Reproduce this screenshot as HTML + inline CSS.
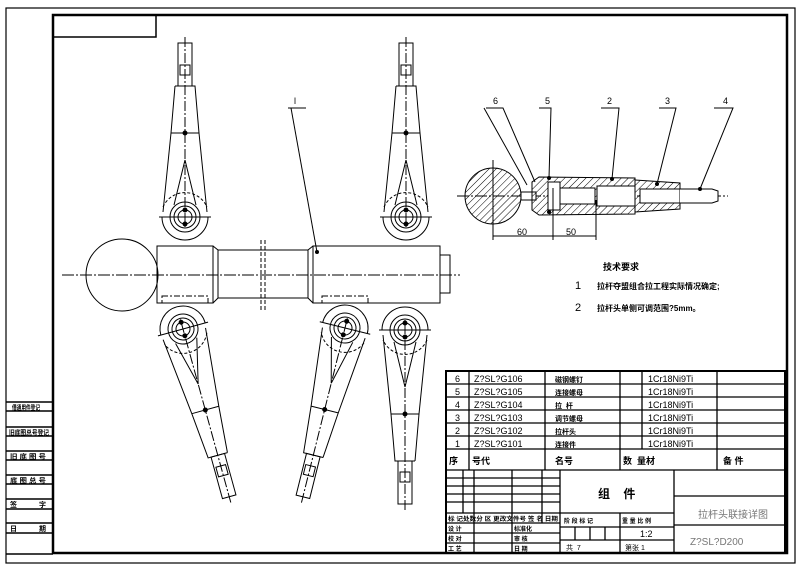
<!DOCTYPE html>
<html><head><meta charset="utf-8"><style>
body{margin:0;background:#fff}
svg{display:block}
text{font-family:"Liberation Sans","Noto Sans CJK SC",sans-serif;fill:#000}
</style></head><body>
<svg width="800" height="576" viewBox="0 0 800 576" xmlns="http://www.w3.org/2000/svg">
<defs>
<pattern id="h" width="5" height="5" patternUnits="userSpaceOnUse" patternTransform="rotate(45)">
<line x1="0" y1="0" x2="0" y2="5" stroke="#000" stroke-width="1"/>
</pattern>
<g id="arm" fill="none" stroke="#000" stroke-width="1">
<rect x="-7" y="-174" width="14" height="43"/>
<rect x="-5" y="-152" width="10" height="10"/>
<path d="M-10,-131 L10,-131 L14,-84 L22,-5 M-10,-131 L-14,-84 L-22,-5"/>
<line x1="-14" y1="-84" x2="14" y2="-84"/>
<path d="M-23,0 A23,23 0 0 0 23,0"/>
<path d="M0,-57 L-11,-12 M0,-57 L11,-12"/>
<circle r="15"/><circle r="11"/><circle r="7"/>
<path d="M-22,-10 A24,24 0 0 1 22,-10" stroke-dasharray="3,2"/>
<line x1="-26" y1="0" x2="26" y2="0"/>
<line x1="0" y1="-180" x2="0" y2="12" stroke-dasharray="10,2,2,2"/>
<circle cx="0" cy="-84" r="2" fill="#000"/>
<circle cx="0" cy="-7" r="2" fill="#000"/>
<circle cx="0" cy="7" r="2" fill="#000"/>
</g>
</defs>
<rect x="6" y="8" width="789" height="555" fill="none" stroke="#000" stroke-width="1.2"/>
<rect x="53" y="15" width="734" height="538" fill="none" stroke="#000" stroke-width="2.5"/>
<rect x="53" y="15" width="103" height="22" fill="none" stroke="#000" stroke-width="1.5"/>
<g stroke="#000" stroke-width="1.5" fill="none">
<line x1="6" y1="402" x2="53" y2="402"/><line x1="6" y1="411" x2="53" y2="411"/>
<line x1="6" y1="427" x2="53" y2="427"/><line x1="6" y1="436" x2="53" y2="436"/>
<line x1="6" y1="451" x2="53" y2="451"/><line x1="6" y1="460" x2="53" y2="460"/>
<line x1="6" y1="475" x2="53" y2="475"/><line x1="6" y1="484" x2="53" y2="484"/>
<line x1="6" y1="499" x2="53" y2="499"/><line x1="6" y1="509" x2="53" y2="509"/>
<line x1="6" y1="523" x2="53" y2="523"/><line x1="6" y1="533" x2="53" y2="533"/>
<line x1="6" y1="554" x2="53" y2="554"/>
</g>
<g font-size="7" font-weight="bold">
<text x="12" y="410" textLength="28" lengthAdjust="spacingAndGlyphs">借通用件登记</text>
<text x="9" y="435" textLength="40" lengthAdjust="spacingAndGlyphs">旧底图总号登记</text>
<text x="10" y="459" textLength="36" lengthAdjust="spacingAndGlyphs">旧 底 图 号</text>
<text x="10" y="483" textLength="36" lengthAdjust="spacingAndGlyphs">底 图 总 号</text>
<text x="10" y="507" textLength="36" lengthAdjust="spacing">签&#160;&#160;&#160;&#160;&#160;&#160;&#160;字</text>
<text x="10" y="531" textLength="36" lengthAdjust="spacing">日&#160;&#160;&#160;&#160;&#160;&#160;&#160;期</text>
</g>
<g fill="none" stroke="#000" stroke-width="1">
<line x1="62" y1="275" x2="460" y2="275" stroke-dasharray="12,2,2,2"/>
<circle cx="122" cy="275" r="36"/>
<rect x="157" y="246" width="56" height="57"/>
<path d="M213,246 L218,250 L218,298 L213,303"/>
<rect x="218" y="250" width="90" height="48"/>
<path d="M313,246 L308,250 L308,298 L313,303"/>
<rect x="313" y="246" width="127" height="57"/>
<rect x="440" y="255" width="10" height="38"/>
<line x1="261" y1="240" x2="261" y2="310" stroke-dasharray="4,2"/>
<line x1="265" y1="240" x2="265" y2="310" stroke-dasharray="4,2"/>
<rect x="162" y="296" width="46" height="7" stroke-dasharray="6,2,2,2"/>
<rect x="322" y="296" width="46" height="7" stroke-dasharray="6,2,2,2"/>
<line x1="291" y1="108" x2="317" y2="252"/>
<line x1="288" y1="108" x2="306" y2="108"/>
</g>
<text x="294" y="104" font-size="9">l</text>
<circle cx="317" cy="252" r="2"/>
<use href="#arm" transform="translate(185,217)"/>
<use href="#arm" transform="translate(406,217)"/>
<use href="#arm" transform="translate(183,329) rotate(164.6)"/>
<use href="#arm" transform="translate(345,328) rotate(194)"/>
<use href="#arm" transform="translate(405,330) rotate(180)"/>
<g stroke="#000" stroke-width="1">
<line x1="457" y1="196" x2="728" y2="196" stroke-dasharray="12,2,2,2" fill="none"/>
<line x1="493" y1="160" x2="493" y2="240" fill="none"/>
<circle cx="493" cy="196" r="28" fill="url(#h)"/>
<rect x="521" y="192" width="15" height="8" fill="#fff"/>
<path d="M532,182 L539,177 L635,178 L635,214 L539,215 L532,210 Z" fill="url(#h)"/>
<rect x="548" y="182" width="12" height="28" fill="#fff"/>
<rect x="560" y="188" width="35" height="16" fill="#fff"/>
<rect x="597" y="186" width="38" height="20" fill="#fff"/>
<path d="M635,180 L680,183 L680,209 L635,212" fill="url(#h)"/>
<rect x="640" y="189" width="40" height="14" fill="#fff"/>
<path d="M680,189 L712,189 L718,191 L718,201 L712,203 L680,203" fill="#fff"/>
<line x1="553" y1="188" x2="553" y2="240" fill="none"/>
<line x1="596" y1="200" x2="596" y2="240" fill="none"/>
<line x1="493" y1="236" x2="596" y2="236" fill="none"/>
</g>
<circle cx="549" cy="178" r="2"/><circle cx="549" cy="212" r="2"/>
<circle cx="612" cy="179" r="2"/><circle cx="657" cy="184" r="2"/><circle cx="700" cy="189" r="2"/>
<g stroke="#000" stroke-width="1" fill="none">
<path d="M486,108 L503,108 L535,182 M484,108 L527,185"/>
<path d="M539,108 L551,108 L549,178"/>
<path d="M601,108 L619,108 L612,179"/>
<path d="M659,108 L676,108 L657,184"/>
<path d="M714,108 L733,108 L700,189"/>
</g>
<g font-size="9">
<text x="493" y="104">6</text><text x="545" y="104">5</text><text x="607" y="104">2</text>
<text x="665" y="104">3</text><text x="723" y="104">4</text>
<text x="517" y="235">60</text><text x="566" y="235">50</text>
</g>
<text x="603" y="270" font-size="9" font-weight="bold">技术要求</text>
<text x="575" y="289" font-size="11">1</text>
<text x="597" y="289" font-size="8" font-weight="bold">拉杆夺盟组合拉工程实际情况确定;</text>
<text x="575" y="311" font-size="11">2</text>
<text x="597" y="311" font-size="8" font-weight="bold">拉杆头单侧可调范围?5mm。</text>
<g stroke="#000" stroke-width="1.3" fill="none">
<rect x="446" y="371" width="339" height="182" stroke-width="2"/>
<line x1="446" y1="384" x2="785" y2="384"/><line x1="446" y1="397" x2="785" y2="397"/>
<line x1="446" y1="410" x2="785" y2="410"/><line x1="446" y1="423" x2="785" y2="423"/>
<line x1="446" y1="436" x2="785" y2="436"/><line x1="446" y1="449" x2="785" y2="449"/>
<line x1="446" y1="470" x2="785" y2="470"/>
<line x1="469" y1="371" x2="469" y2="470"/><line x1="545" y1="371" x2="545" y2="470"/>
<line x1="620" y1="371" x2="620" y2="470"/><line x1="642" y1="371" x2="642" y2="449"/>
<line x1="717" y1="371" x2="717" y2="470"/>
<line x1="560" y1="470" x2="560" y2="553"/><line x1="674" y1="470" x2="674" y2="553"/>
<line x1="560" y1="513" x2="674" y2="513"/>
<line x1="674" y1="496" x2="785" y2="496"/><line x1="674" y1="525" x2="785" y2="525"/>
<line x1="446" y1="478" x2="560" y2="478"/><line x1="446" y1="486" x2="560" y2="486"/>
<line x1="446" y1="494" x2="560" y2="494"/><line x1="446" y1="502" x2="560" y2="502"/>
<line x1="446" y1="513" x2="560" y2="513"/><line x1="446" y1="523" x2="560" y2="523"/>
<line x1="446" y1="533" x2="560" y2="533"/><line x1="446" y1="543" x2="560" y2="543"/>
<line x1="463" y1="470" x2="463" y2="513"/><line x1="474" y1="470" x2="474" y2="553"/>
<line x1="512" y1="470" x2="512" y2="553"/><line x1="542" y1="470" x2="542" y2="523"/>
<line x1="560" y1="527" x2="674" y2="527"/><line x1="560" y1="540" x2="674" y2="540"/>
<line x1="575" y1="527" x2="575" y2="540"/><line x1="590" y1="527" x2="590" y2="540"/>
<line x1="605" y1="527" x2="605" y2="540"/><line x1="620" y1="513" x2="620" y2="553"/>
</g>
<g font-size="9">
<text x="455" y="382">6</text><text x="474" y="382">Z?SL?G106</text><text x="648" y="382">1Cr18Ni9Ti</text>
<text x="455" y="395">5</text><text x="474" y="395">Z?SL?G105</text><text x="648" y="395">1Cr18Ni9Ti</text>
<text x="455" y="408">4</text><text x="474" y="408">Z?SL?G104</text><text x="648" y="408">1Cr18Ni9Ti</text>
<text x="455" y="421">3</text><text x="474" y="421">Z?SL?G103</text><text x="648" y="421">1Cr18Ni9Ti</text>
<text x="455" y="434">2</text><text x="474" y="434">Z?SL?G102</text><text x="648" y="434">1Cr18Ni9Ti</text>
<text x="455" y="447">1</text><text x="474" y="447">Z?SL?G101</text><text x="648" y="447">1Cr18Ni9Ti</text>
</g>
<g font-size="7" font-weight="bold">
<text x="555" y="382">磁钢螺钉</text><text x="555" y="395">连接螺母</text>
<text x="555" y="408">拉&#160;&#160;杆</text><text x="555" y="421">调节螺母</text>
<text x="555" y="434">拉杆头</text><text x="555" y="447">连接件</text>
</g>
<g font-size="9" font-weight="bold">
<text x="449" y="464">序</text><text x="472" y="464">号代</text>
<text x="555" y="464">名号</text><text x="623" y="464">数&#160;&#160;量材</text>
<text x="723" y="464">备&#160;件</text>
</g>
<text x="598" y="498" font-size="12" font-weight="bold">组&#160;&#160;&#160;&#160;件</text>
<text x="698" y="518" font-size="10" style="fill:#777">拉杆头联接详图</text>
<text x="690" y="545" font-size="10" style="fill:#777">Z?SL?D200</text>
<text x="640" y="537" font-size="9">1:2</text>
<text x="566" y="550" font-size="7">共&#160;&#160;7</text>
<text x="625" y="550" font-size="7">第张 1</text>
<g font-size="6" font-weight="bold">
<text x="448" y="521" textLength="110" lengthAdjust="spacingAndGlyphs">标 记处数分 区 更改文件号 签 名 日期</text>
<text x="448" y="531">设 计</text><text x="514" y="531">标准化</text>
<text x="448" y="541">校 对</text><text x="514" y="541">审 核</text>
<text x="448" y="551">工 艺</text><text x="514" y="551">日 期</text>
<text x="564" y="523">阶 段 标 记</text><text x="622" y="523">重 量 比 例</text>
</g>
</svg>
</body></html>
